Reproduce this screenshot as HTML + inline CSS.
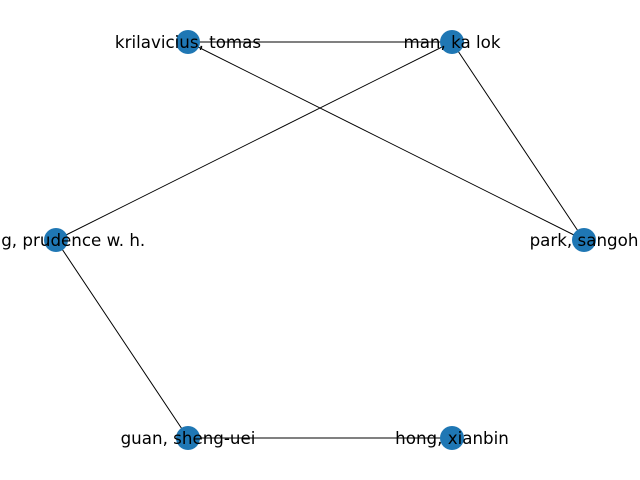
<!DOCTYPE html>
<html><head><meta charset="utf-8"><style>
html,body{margin:0;padding:0;background:#fff;width:640px;height:480px;overflow:hidden}
svg{display:block}
text{font-family:"DejaVu Sans","Liberation Sans",sans-serif;font-size:16.7px;fill:#000}
</style></head><body>
<svg width="640" height="480" viewBox="0 0 640 480">
<g stroke="#000" stroke-width="1">
<line x1="188" y1="42" x2="452" y2="42"/>
<line x1="188" y1="42" x2="584" y2="240"/>
<line x1="452" y1="42" x2="56" y2="240"/>
<line x1="452" y1="42" x2="584" y2="240"/>
<line x1="56" y1="240" x2="188" y2="438"/>
<line x1="188" y1="438" x2="452" y2="438"/>
</g>
<g fill="#1f77b4">
<circle cx="188" cy="42" r="12"/>
<circle cx="452" cy="42" r="12"/>
<circle cx="56" cy="240" r="12"/>
<circle cx="584" cy="240" r="12"/>
<circle cx="188" cy="438" r="12"/>
<circle cx="452" cy="438" r="12"/>
</g>
<g text-anchor="middle" dominant-baseline="central">
<text x="188" y="42">krilavicius, tomas</text>
<text x="452" y="42">man, ka lok</text>
<text x="56" y="240">wong, prudence w. h.</text>
<text x="584" y="240">park, sangoh</text>
<text x="188" y="438">guan, sheng-uei</text>
<text x="452" y="438">hong, xianbin</text>
</g>
</svg>
</body></html>
